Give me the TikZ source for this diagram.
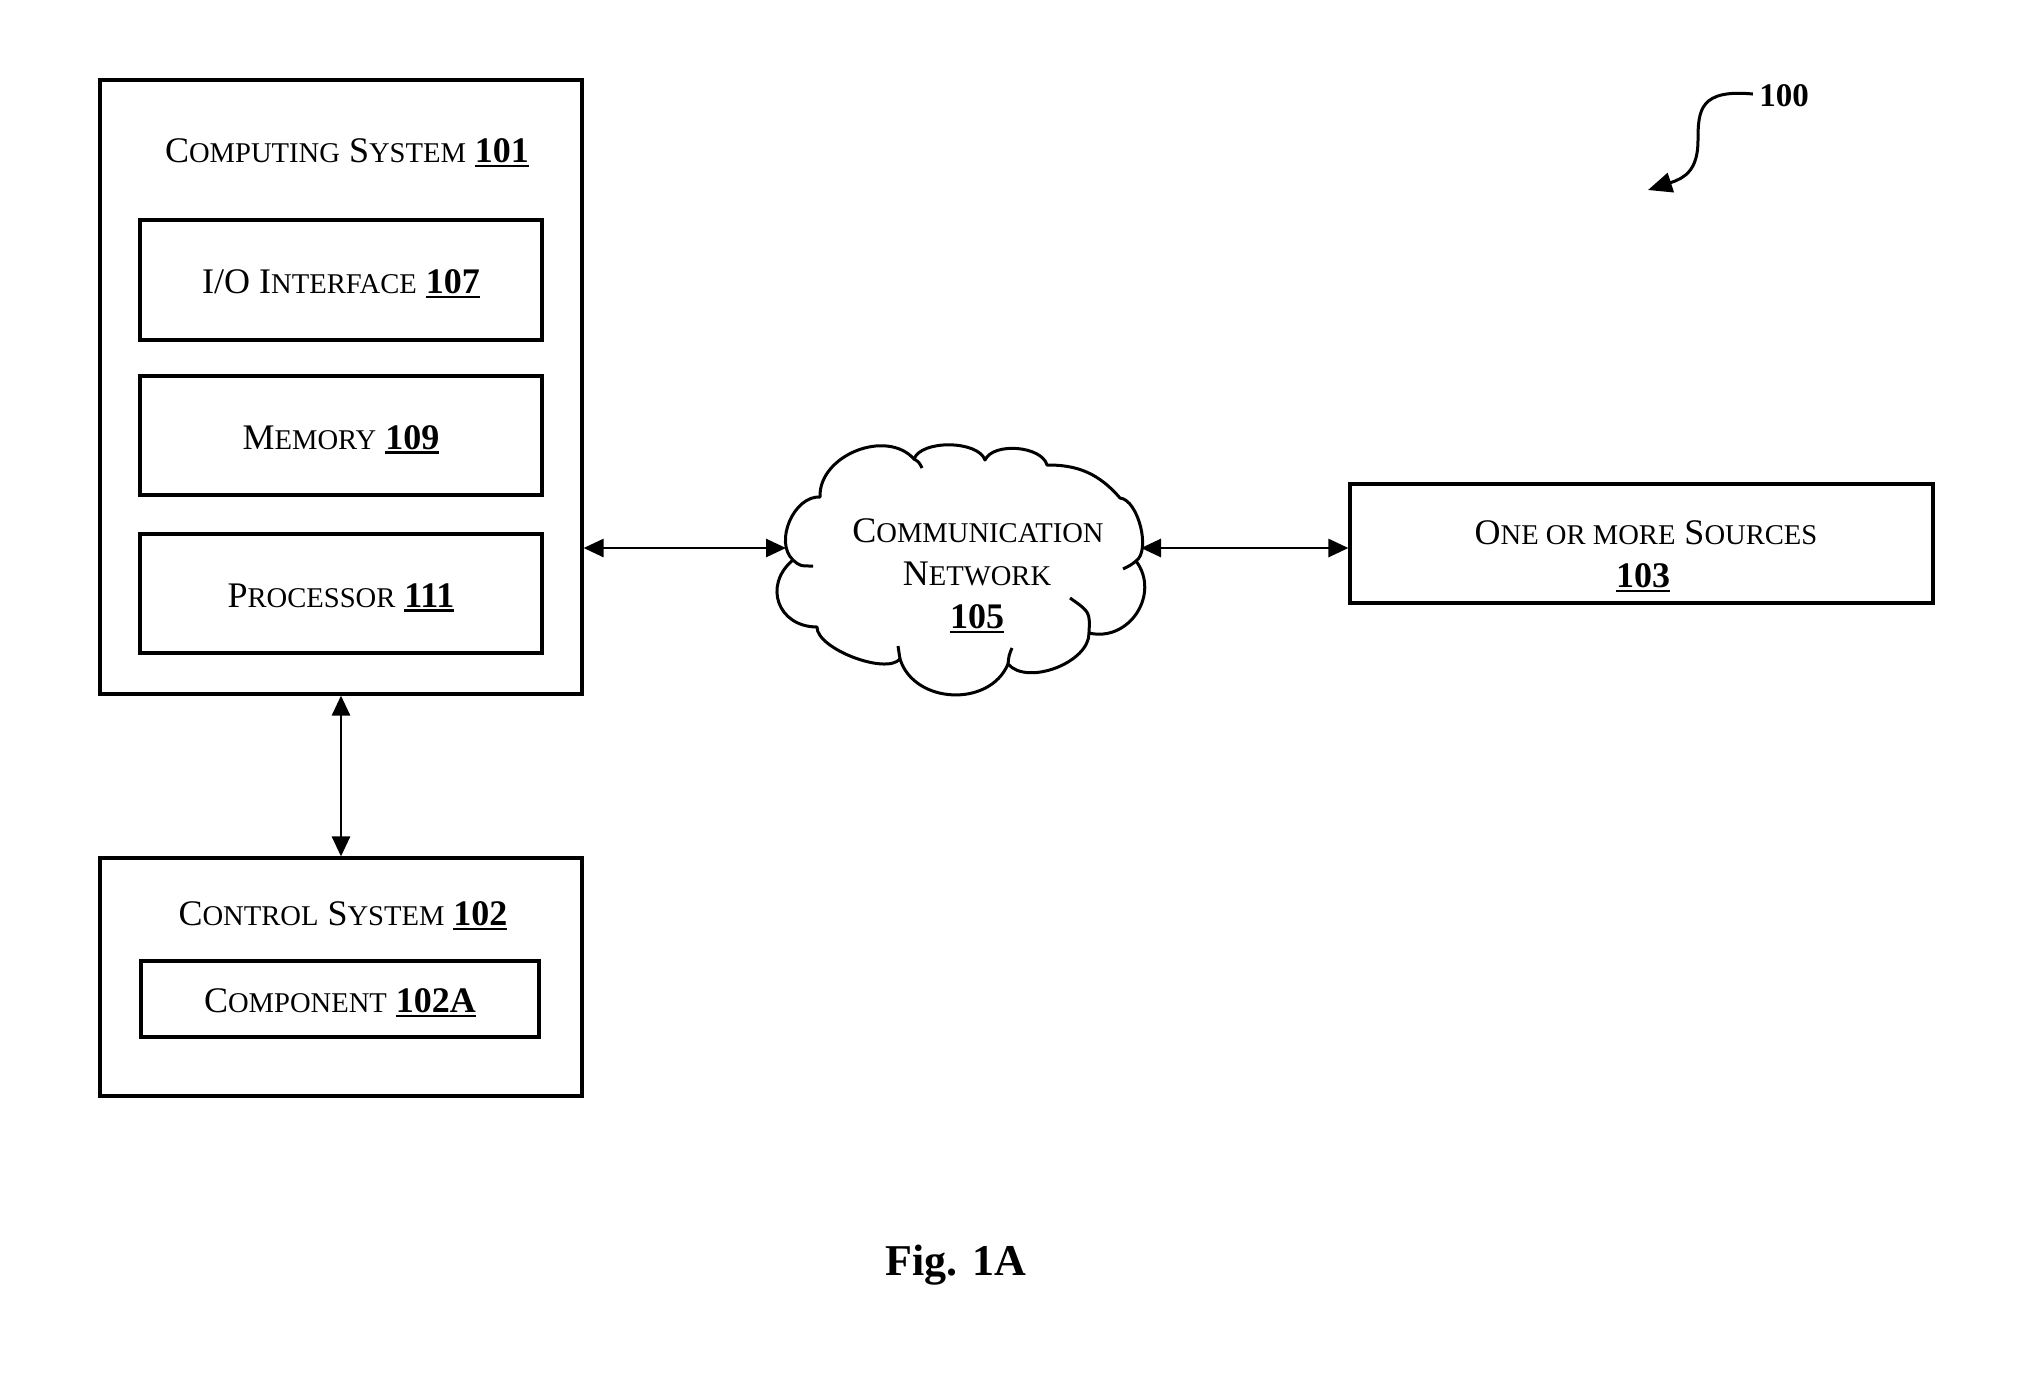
\documentclass[tikz,border=0pt]{standalone}
\usepackage{fontspec}
\setmainfont{Liberation Serif}
\usetikzlibrary{arrows.meta}
\newcommand\smc[1]{{\fontsize{14.3}{16}\selectfont\uppercase{#1}}}
\newcommand\ulb[1]{\setbox0\hbox{\textbf{#1}}\rlap{\rule[-2.2pt]{\wd0}{1.1pt}}\box0}
\tikzset{
  box/.style={draw, line width=1.6pt, rectangle, inner sep=0pt},
  lbl/.style={inner sep=0pt, font=\fontsize{18}{21}\selectfont},
  conn/.style={line width=1.4pt, {Triangle[length=10pt,width=9pt]}-{Triangle[length=10pt,width=9pt]}},
  cloudline/.style={line width=1.5pt, line join=round},
}
\begin{document}
\begin{tikzpicture}[x=0.5pt,y=-0.5pt]
\useasboundingbox (0,0) rectangle (2033,1383);
% computing system
\node[box, minimum width=241pt, minimum height=307pt] (cs) at (341,387) {};
\node[lbl] (cst) at (347,153) {C\smc{omputing} S\smc{ystem} \ulb{101}};
\node[box, minimum width=201pt, minimum height=60pt] (io) at (341,280) {};
\node[lbl] at ([yshift=-2pt]io.center) {I/O I\smc{nterface} \ulb{107}};
\node[box, minimum width=201pt, minimum height=59.5pt] (mem) at (341,435.5) {};
\node[lbl] at ([yshift=-2pt]mem.center) {M\smc{emory} \ulb{109}};
\node[box, minimum width=201pt, minimum height=59.5pt] (proc) at (341,593.5) {};
\node[lbl] at ([yshift=-2pt]proc.center) {P\smc{rocessor} \ulb{111}};
% control system
\node[box, minimum width=241pt, minimum height=119pt] (ctl) at (341,977) {};
\node[lbl] (ctlt) at (343,916) {C\smc{ontrol} S\smc{ystem} \ulb{102}};
\node[box, minimum width=199pt, minimum height=38pt] (comp) at (340,999) {};
\node[lbl] at ([yshift=-2pt]comp.center) {C\smc{omponent} \ulb{102A}};
% sources
\node[box, minimum width=291.5pt, minimum height=59.5pt] (src) at (1641.5,543.5) {};
\node[lbl] (srct) at (1646,533) {O\smc{ne or more} S\smc{ources}};
\node[lbl] (srcn) at (1643,578) {\ulb{103}};
% cloud
\coordinate (A) at (793,560);
\coordinate (B) at (820,497);
\coordinate (C) at (914,459);
\coordinate (D) at (985,460);
\coordinate (E) at (1047,465);
\coordinate (F) at (1120,498);
\coordinate (G) at (1136,561);
\coordinate (H) at (1089,633);
\coordinate (I) at (1008,664);
\coordinate (J) at (900,659);
\coordinate (K) at (817,627);
\draw[cloudline] (A) to[bend left=70, looseness=0.98] (B)
  to[bend left=70, looseness=1.05] (C)
  to[bend left=70, looseness=0.75] (D)
  to[bend left=70, looseness=0.82] (E)
  to[bend left=25, looseness=1] (F)
  to[bend left=70, looseness=0.72] (G)
  to[bend left=70, looseness=1.23] (H)
  to[bend left=70, looseness=0.87] (I)
  to[bend left=70, looseness=1.12] (J)
  to[bend left=70, looseness=0.62] (K)
  to[bend left=70, looseness=1.41] (A);
\draw[cloudline] (A) .. controls (800,566) .. (813,566);
\draw[cloudline] (C) .. controls (919,462) .. (922,468);
\draw[cloudline] (G) .. controls (1131,565) .. (1123,569);
\draw[cloudline] (H) .. controls (1090,612) .. (1070,598);
\draw[cloudline] (I) .. controls (1009,655) .. (1012,648);
\draw[cloudline] (J) .. controls (899,653) .. (898,646);
\node[lbl] (net1) at (978,531) {C\smc{ommunication}};
\node[lbl] (net2) at (977,574) {N\smc{etwork}};
\node[lbl] (net3) at (977,619) {\ulb{105}};
\coordinate (netL) at (786,548);
\coordinate (netR) at (1141,548);
% connectors
\draw[conn] (netL -| cs.east) -- (netL);
\draw[conn] (netR) -- (netR -| src.west);
\draw[conn] (cs.south) -- (ctl.north);
% reference numeral
\node[inner sep=0pt, font=\fontsize{16.5}{19}\selectfont\bfseries] (ref) at (1784,96) {100};
\coordinate (refend) at (1648,190);
\draw[line width=1.5pt, -{Triangle[length=12pt,width=10pt]}] (ref.west) ++(-6,-2) .. controls (1700,89) and (1698,110) .. (1698,140) .. controls (1698,170) and (1685,178) .. (refend);
% figure label
\node[inner sep=0pt, font=\fontsize{22}{26}\selectfont\bfseries] (fig) at (956,1265) {Fig. 1A};
\end{tikzpicture}
\end{document}
